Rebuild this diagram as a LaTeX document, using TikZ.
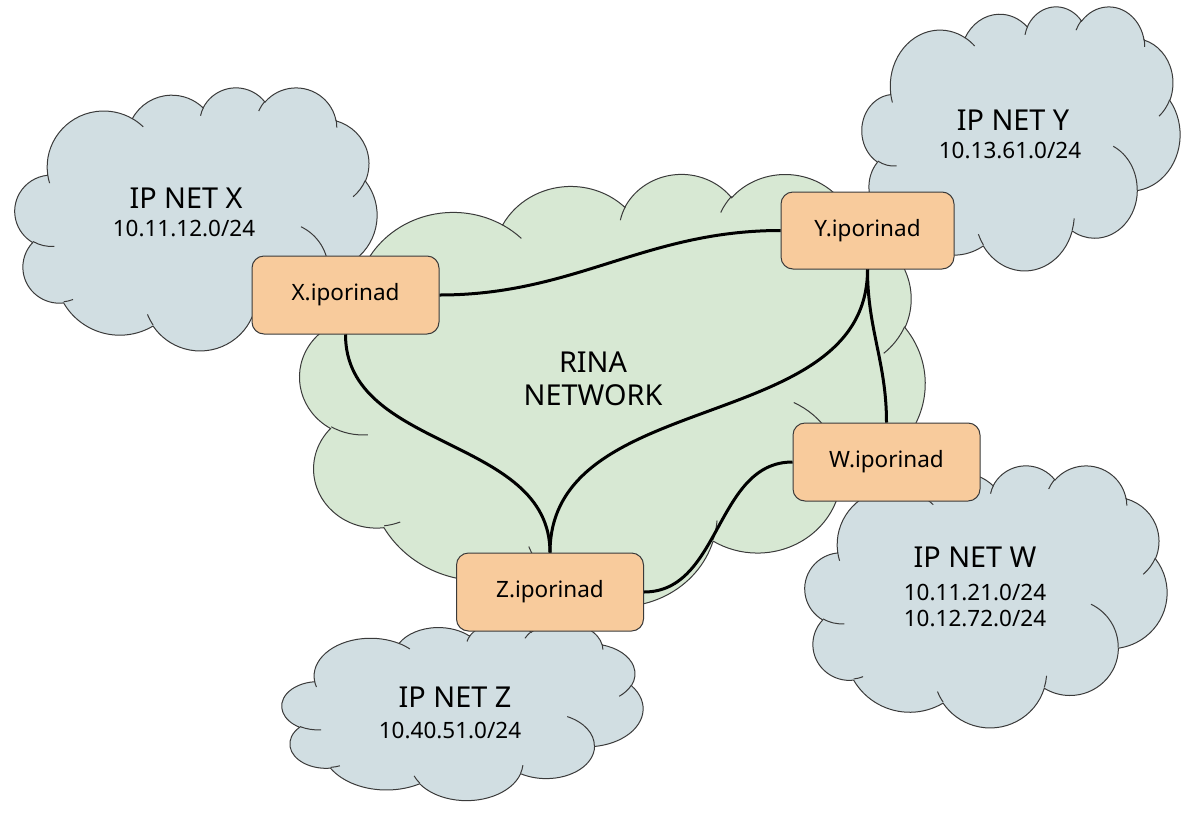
\documentclass[tikz,border=0pt]{standalone}
\usepackage{fontspec}
\setmainfont{Noto Sans}
\usetikzlibrary{positioning}

\definecolor{ipfill}{HTML}{D1DEE2}
\definecolor{rinafill}{HTML}{D7E8D3}
\definecolor{ipcpfill}{HTML}{F8CB9C}
\definecolor{edgegray}{HTML}{3A3A3A}

\tikzset{
  ipcp/.style={draw=edgegray, line width=1pt, fill=ipcpfill, rounded corners=12pt,
               minimum width=187pt, minimum height=78pt, inner sep=0pt,
               font=\fontsize{22.5}{27}\selectfont},
  link/.style={line width=3pt},
  cloudline/.style={draw=edgegray, line width=1pt},
  nettitle/.style={font=\fontsize{28.8}{34}\selectfont},
  netaddr/.style={font=\fontsize{22.5}{26}\selectfont, align=center},
}

% cloud outline: points in 1/1000 of a 43200 frame, angles in 1/10000 of 60000ths
\newcommand\cldpt[2]{({#1/43.2*\cldw},{#2/43.2*\cldh})}
\newcommand\cldarc[4]{arc[x radius={#1/43.2*\cldw*1pt}, y radius={#2/43.2*\cldh*1pt},
  start angle={-atan2(#1*sin(#3/6),#2*cos(#3/6))},
  end angle={-atan2(#1*sin(#3/6),#2*cos(#3/6))-mod(atan2(#1*sin((#3+#4)/6),#2*cos((#3+#4)/6))-atan2(#1*sin(#3/6),#2*cos(#3/6))+720,360)}]}
\newcommand\netcloud[5]{% left, top, width, height, fill
  \def\cldw{#3}\def\cldh{#4}
  \begin{scope}[shift={(#1,#2)}]
    \filldraw[cloudline, fill=#5] \cldpt{3.9}{14.37}
      \cldarc{6.753}{9.19}{-1142.9249}{742.6832}
      \cldarc{5.333}{7.267}{-864.6143}{539.6714}
      \cldarc{4.365}{5.945}{-874.8475}{598.3381}
      \cldarc{4.857}{6.595}{-785.9164}{703.4504}
      \cldarc{5.333}{7.273}{-472.2533}{654.1615}
      \cldarc{6.775}{9.22}{-277.6035}{781.614}
      \cldarc{5.785}{7.867}{3.7501}{684.2}
      \cldarc{6.752}{9.215}{134.7096}{691.0353}
      \cldarc{7.72}{10.543}{397.4558}{454.2661}
      \cldarc{4.36}{5.918}{-1649.6525}{880.4134}
      \cldarc{4.345}{5.945}{-1480.971}{915.1131}
      -- cycle;
    \draw[cloudline]
      \cldpt{4.693}{26.177} \cldarc{4.345}{5.945}{520.452}{158.577}
      \cldpt{6.928}{34.899} \cldarc{4.36}{5.918}{441.6628}{68.6848}
      \cldpt{16.478}{39.09} \cldarc{6.752}{9.215}{825.7449}{84.4866}
      \cldpt{28.827}{34.751} \cldarc{6.752}{9.215}{38.7196}{95.9901}
      \cldpt{34.129}{22.954} \cldarc{5.785}{7.867}{-421.7541}{425.5042}
      \cldpt{41.798}{15.354} \cldarc{5.333}{7.273}{181.9082}{166.509}
      \cldpt{38.324}{5.426} \cldarc{4.857}{6.595}{-82.466}{89.1534}
      \cldpt{29.078}{3.952} \cldarc{4.857}{6.595}{-895.0887}{109.1722}
      \cldpt{22.141}{4.72} \cldarc{4.365}{5.945}{-980.9656}{106.1181}
      \cldpt{14}{5.192} \cldarc{6.753}{9.19}{-400.2417}{73.9161}
      \cldpt{4.127}{15.789} \cldarc{6.753}{9.19}{945.9261}{71.149};
  \end{scope}}

\begin{document}
\begin{tikzpicture}[x=1pt, y=-1pt]
  \useasboundingbox (0,0) rectangle (1185,822);

  % IP networks and the RINA network
  \netcloud{15}{87}{362}{263}{ipfill}
  \netcloud{862}{6}{318}{264}{ipfill}
  \netcloud{805}{465}{362}{262}{ipfill}
  \netcloud{282}{622}{361}{178}{ipfill}
  \netcloud{300}{173}{625}{432}{rinafill}

  \node[nettitle] (xtitle) at (186,198) {IP NET X};
  \node[netaddr] (xaddr) at (184,228) {10.11.12.0/24};
  \node[nettitle] (ytitle) at (1013,120) {IP NET Y};
  \node[netaddr] (yaddr) at (1010,150) {10.13.61.0/24};
  \node[nettitle] (wtitle) at (975,557) {IP NET W};
  \node[netaddr] (waddr) at (975,605) {10.11.21.0/24\\10.12.72.0/24};
  \node[nettitle] (ztitle) at (455,697) {IP NET Z};
  \node[netaddr] (zaddr) at (450,730) {10.40.51.0/24};
  \node[nettitle, align=center, font=\fontsize{28.8}{33}\selectfont] (rina) at (593,378.5) {RINA\\NETWORK};

  % IPCPs
  \node[ipcp] (xipcp) at (345.5,295) {X.iporinad};
  \node[ipcp, minimum width=173pt, minimum height=77pt] (yipcp) at (867.5,230.5) {Y.iporinad};
  \node[ipcp] (zipcp) at (550,592) {Z.iporinad};
  \node[ipcp] (wipcp) at (886.5,462) {W.iporinad};

  % links
  \draw[link] (xipcp.east) to[out=0, in=180] (yipcp.west);
  \draw[link] (xipcp.south) to[out=-90, in=90] (zipcp.north);
  \draw[link] (yipcp.south) to[out=-90, in=90] (zipcp.north);
  \draw[link] (yipcp.south) to[out=-90, in=90] (wipcp.north);
  \draw[link] (zipcp.east) to[out=0, in=180] (wipcp.west);
\end{tikzpicture}
\end{document}
